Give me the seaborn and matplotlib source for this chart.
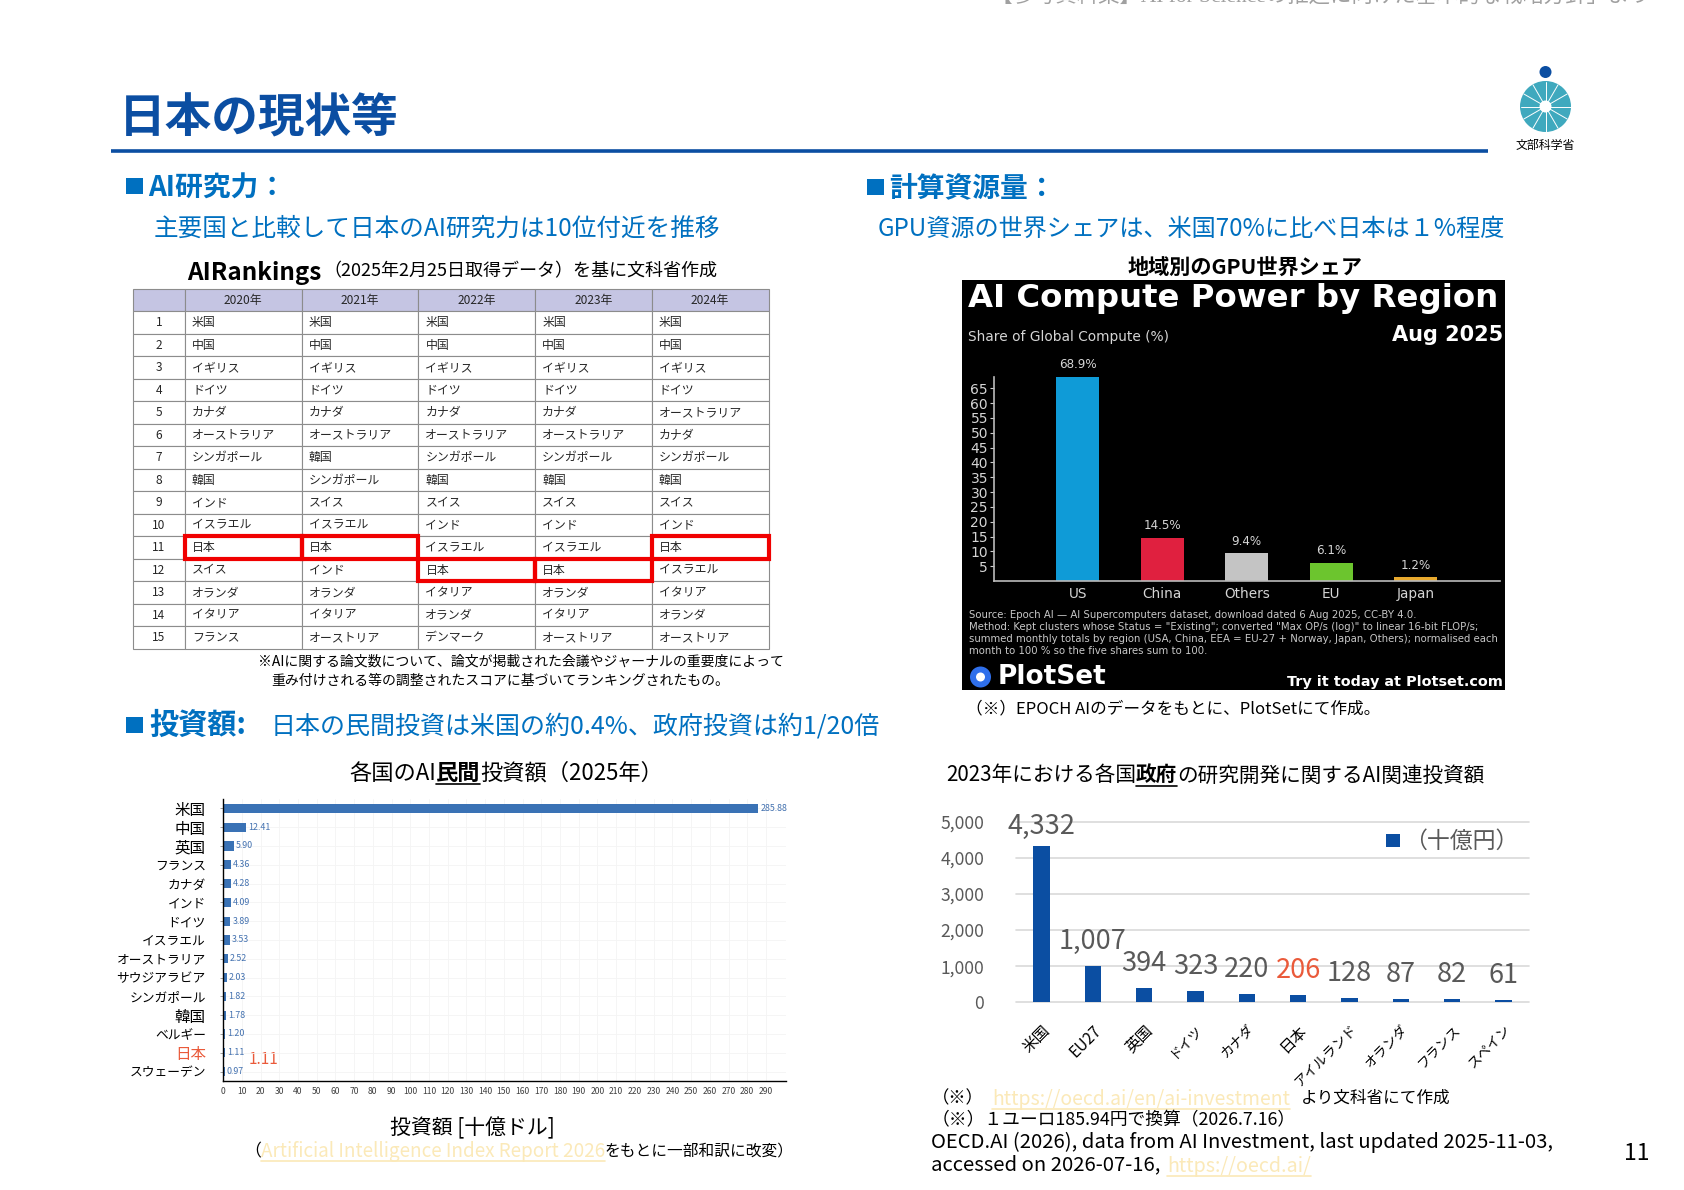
import numpy as np
import pandas as pd
import matplotlib.pyplot as plt
import seaborn as sns
from matplotlib.patches import Rectangle, Ellipse, Circle

# Data
years = ["2020年", "2021年", "2022年", "2023年", "2024年"]
ranks = [str(i) for i in range(1, 16)]
rank_2020 = ["米国", "中国", "イギリス", "ドイツ", "カナダ", "オーストラリア", "シンガポール", "韓国", "インド", "イスラエル", "日本", "スイス", "オランダ", "イタリア", "フランス"]
rank_2021 = ["米国", "中国", "イギリス", "ドイツ", "カナダ", "オーストラリア", "韓国", "シンガポール", "スイス", "イスラエル", "日本", "インド", "オランダ", "イタリア", "オーストリア"]
rank_2022 = ["米国", "中国", "イギリス", "ドイツ", "カナダ", "オーストラリア", "シンガポール", "韓国", "スイス", "インド", "イスラエル", "日本", "イタリア", "オランダ", "デンマーク"]
rank_2023 = ["米国", "中国", "イギリス", "ドイツ", "カナダ", "オーストラリア", "シンガポール", "韓国", "スイス", "インド", "イスラエル", "日本", "オランダ", "イタリア", "オーストリア"]
rank_2024 = ["米国", "中国", "イギリス", "ドイツ", "オーストラリア", "カナダ", "シンガポール", "韓国", "スイス", "インド", "日本", "イスラエル", "イタリア", "オランダ", "オーストリア"]

regions = ["US", "China", "Others", "EU", "Japan"]
region_share = [68.9, 14.5, 9.4, 6.1, 1.2]
region_colors = ["#0F9BD7", "#E0203F", "#C4C4C4", "#6CC52E", "#E8A92E"]
share_ticks = [5, 10, 15, 20, 25, 30, 35, 40, 45, 50, 55, 60, 65]

private_countries = ["米国", "中国", "英国", "フランス", "カナダ", "インド", "ドイツ", "イスラエル", "オーストラリア", "サウジアラビア", "シンガポール", "韓国", "ベルギー", "日本", "スウェーデン"]
private_values = [285.88, 12.41, 5.90, 4.36, 4.28, 4.09, 3.89, 3.53, 2.52, 2.03, 1.82, 1.78, 1.20, 1.11, 0.97]

gov_countries = ["米国", "EU27", "英国", "ドイツ", "カナダ", "日本", "アイルランド", "オランダ", "フランス", "スペイン"]
gov_values = [4332, 1007, 394, 323, 220, 206, 128, 87, 82, 61]

BLUE = "#0070C0"
NAVY = "#0B4EA2"
LINK = "#FBE9B8"
RED = "#EA5A3A"
W, H = 1684, 1190

sns.set_theme(style="white")
plt.rcParams["font.family"] = ["Noto Sans CJK JP", "DejaVu Sans"]

fig = plt.figure(figsize=(W / 100, H / 100), dpi=100, facecolor="white")
renderer = fig.canvas.get_renderer()

# whole slide in pixel coordinates
page = fig.add_axes([0, 0, 1, 1])
page.set_xlim(0, W)
page.set_ylim(H, 0)
page.set_autoscale_on(False)
page.axis("off")


def box(x0, y0, x1, y1):
    return fig.add_axes([x0 / W, 1 - y1 / H, (x1 - x0) / W, (y1 - y0) / H])


def txt(x, y, s, size, color="black", **kw):
    kw.setdefault("va", "center")
    return page.text(x, y, s, fontsize=size, color=color, **kw)


def runs(x, y, parts, size, color="black"):
    # several styles on one line, placed one after the other
    base = y + size * 100 / 72 * 0.36
    for s, c, bold, under in parts:
        t = page.text(x, base, s, fontsize=size, color=c or color, va="baseline",
                      fontweight="bold" if bold else "normal")
        w = t.get_window_extent(renderer).width
        if under:
            page.plot([x, x + w], [y + size * 0.78] * 2, color=c or color, lw=1.2)
        x += w
    return x


def square(x0, y0, x1, y1, color=BLUE):
    page.add_patch(Rectangle((x0, y0), x1 - x0, y1 - y0, color=color, lw=0))


# header
txt(970, -2, "・【参考資料集】AI for Scienceの推進に向けた基本的な戦略方針」より", 15.4, "#A0A0A0",
    family=["Liberation Serif", "Noto Sans CJK JP"])
txt(119, 118, "日本の現状等", 33.6, NAVY, fontweight="bold")
page.plot([111, 1488], [151, 151], color=NAVY, lw=2.6, solid_capstyle="butt")

# logo
page.add_patch(Ellipse((1545.5, 106.5), 51, 51, color="#3FA9BE", lw=0))
for a in np.deg2rad(np.arange(0, 360, 30)):
    page.plot([1545.5, 1545.5 + 25 * np.cos(a)], [106.5, 106.5 + 25 * np.sin(a)], color="white", lw=0.7)
page.add_patch(Circle((1545.5, 106.5), 6, color="white", lw=0))
page.add_patch(Circle((1545.5, 72), 6, color=NAVY, lw=0))
txt(1545.5, 145.5, "文部科学省", 8.6, ha="center")

# section heads
square(126, 178, 143, 194)
txt(148, 189, "AI研究力：", 20, BLUE, fontweight="bold")
txt(154, 229, "主要国と比較して日本のAI研究力は10位付近を推移", 17.7, BLUE)
square(867, 179, 884, 195)
txt(889, 189, "計算資源量：", 20, BLUE, fontweight="bold")
txt(878, 229, "GPU資源の世界シェアは、米国70%に比べ日本は１%程度", 17.4, BLUE)
square(126, 717, 143, 733)
txt(149, 725, "投資額:", 21, BLUE, fontweight="bold")
txt(271, 726, "日本の民間投資は米国の約0.4%、政府投資は約1/20倍", 18, BLUE)

# ranking table
runs(187, 271, [("AIRankings", None, True, False)], 17.5)
txt(323, 271, "（2025年2月25日取得データ）を基に文科省作成", 13)

ax_t = box(133, 289, 768.5, 649)
ax_t.axis("off")
rank_w = 52 / 635.5
cols = [rank_2020, rank_2021, rank_2022, rank_2023, rank_2024]
cell_text = [list(row) for row in zip(*cols)]
head_color = "#C5C5E3"
t_rank = ax_t.table(cellText=[[r] for r in ranks], colLabels=[""], cellLoc="center",
                    colColours=[head_color], bbox=[0, 0, rank_w, 1])
t_main = ax_t.table(cellText=cell_text, colLabels=years, cellLoc="left", colLoc="center",
                    colColours=[head_color] * 5, bbox=[rank_w, 0, 1 - rank_w, 1])
for tb in (t_rank, t_main):
    tb.auto_set_font_size(False)
    tb.set_fontsize(8.6)
    for cell in tb.get_celld().values():
        cell.set_edgecolor("#8C8C8C")
        cell.set_linewidth(0.8)
        cell.PAD = 0.06
# red frames wherever Japan sits
col_w = (1 - rank_w) / 5
row_h = 1 / 16
for i, col in enumerate(cols):
    r = col.index("日本")
    ax_t.add_patch(Rectangle((rank_w + i * col_w, 1 - (r + 2) * row_h), col_w, row_h, fill=False,
                             ec="#F00000", lw=3, transform=ax_t.transAxes, clip_on=False, zorder=20))
txt(258, 662, "※AIに関する論文数について、論文が掲載された会議やジャーナルの重要度によって", 10)
txt(271, 681, "重み付けされる等の調整されたスコアに基づいてランキングされたもの。", 10)

# compute panel
txt(1245, 268, "地域別のGPU世界シェア", 15.2, ha="center", fontweight="bold")
page.add_patch(Rectangle((962, 280), 543, 410, color="black", lw=0))
dv = ["DejaVu Sans"]
txt(968, 298, "AI Compute Power by Region", 23.3, "white", fontweight="bold", family=dv)
txt(968, 337, "Share of Global Compute (%)", 9.9, "#D5D5D5", family=dv)
txt(1503, 335, "Aug 2025", 15, "white", fontweight="bold", family=dv, ha="right")
source_lines = ["Source: Epoch AI — AI Supercomputers dataset, download dated 6 Aug 2025, CC-BY 4.0.",
                "Method: Kept clusters whose Status = \"Existing\"; converted \"Max OP/s (log)\" to linear 16-bit FLOP/s;",
                "summed monthly totals by region (USA, China, EEA = EU-27 + Norway, Japan, Others); normalised each",
                "month to 100 % so the five shares sum to 100."]
for y, line in zip([615, 627, 639, 651], source_lines):
    txt(969, y, line, 7.3, "#C8C8C8", family=dv)
page.add_patch(Circle((980.5, 677), 10.5, color="#2F6FEB", lw=0))
page.add_patch(Circle((980.5, 677), 4.5, color="white", lw=0))
txt(998, 677, "PlotSet", 19, "white", fontweight="bold", family=dv)
txt(1503, 682, "Try it today at Plotset.com", 10.4, "white", fontweight="bold", family=dv, ha="right")
txt(966, 709, "（※）EPOCH AIのデータをもとに、PlotSetにて作成。", 12)

ax_r = box(993.5, 376.5, 1500, 581)
ax_r.patch.set_visible(False)
df_r = pd.DataFrame({"region": regions, "share": region_share})
sns.barplot(data=df_r, x="region", y="share", hue="region", palette=region_colors, saturation=1,
            width=0.51, linewidth=0, legend=False, ax=ax_r)
ax_r.set_xlim(-1, 5)
ax_r.set_ylim(0, 69)
ax_r.set_xlabel("")
ax_r.set_ylabel("")
ax_r.set_yticks(share_ticks)
ax_r.tick_params(axis="y", length=3, width=0.8, color="#CCCCCC", labelcolor="#D5D5D5", labelsize=10, pad=1, left=True)
ax_r.tick_params(axis="x", length=0, labelcolor="#D5D5D5", labelsize=9.8, pad=4)
for lab in ax_r.get_xticklabels() + ax_r.get_yticklabels():
    lab.set_family(dv)
for c in ax_r.containers:
    ax_r.bar_label(c, fmt="%.1f%%", padding=4, color="#D5D5D5", fontsize=8.6, family=dv)
sns.despine(ax=ax_r)
for s in ("left", "bottom"):
    ax_r.spines[s].set_color("#BBBBBB")
    ax_r.spines[s].set_linewidth(1.2)

# private investment
runs(349, 772, [("各国のAI", None, False, False), ("民間", None, True, True), ("投資額（2025年）", None, False, False)], 16)
ax_p = box(222.5, 799, 786, 1081)
ax_p.patch.set_visible(False)
df_p = pd.DataFrame({"country": private_countries, "value": private_values})
sns.barplot(data=df_p, y="country", x="value", color="#3A72B5", saturation=1, width=0.48, linewidth=0, ax=ax_p)
ax_p.set_xlim(-0.3, 300.7)
ax_p.set_ylim(14.5, -0.5)
ax_p.set_xlabel("")
ax_p.set_ylabel("")
ax_p.set_xticks(np.arange(0, 300, 10))
ax_p.grid(True, color="#F4F4F4", lw=0.6)
ax_p.set_axisbelow(True)
ax_p.tick_params(axis="x", length=0, labelsize=6.2, labelcolor="#404040", pad=4)
ax_p.tick_params(axis="y", length=2, width=0.5, color="#777777", labelsize=9.2, labelcolor="black", pad=10, left=True)
for lab in ax_p.get_yticklabels():
    if len(lab.get_text()) == 2:
        lab.set_fontsize(11.2)
    if lab.get_text() == "日本":
        lab.set_color(RED)
ax_p.bar_label(ax_p.containers[0], fmt="%.2f", padding=1.5, color="#4472B0", fontsize=6.4)
sns.despine(ax=ax_p)
for s in ("left", "bottom"):
    ax_p.spines[s].set_color("black")
    ax_p.spines[s].set_linewidth(1.0)
txt(249, 1060, "1.11", 11, RED)
txt(472, 1128, "投資額 [十億ドル]", 15, ha="center")
x_end = runs(244, 1150, [("（", None, False, False)], 12.2)
x_end = runs(x_end, 1150, [("Artificial Intelligence Index Report 2026", LINK, False, True)], 13.6)
runs(x_end, 1150, [("をもとに一部和訳に改変）", None, False, False)], 11.3)

# government investment
runs(946, 774, [("2023年における各国", None, False, False), ("政府", None, True, True),
                ("の研究開発に関するAI関連投資額", None, False, False)], 14.85)
ax_g = box(1016, 821.7, 1529, 1002.3)
ax_g.patch.set_visible(False)
df_g = pd.DataFrame({"country": gov_countries, "value": gov_values})
sns.barplot(data=df_g, x="country", y="value", color=NAVY, saturation=1, width=0.32, linewidth=0, ax=ax_g)
ax_g.set_xlim(-0.5, 9.5)
ax_g.set_ylim(0, 5000)
ax_g.set_xlabel("")
ax_g.set_ylabel("")
ax_g.set_yticks([0, 1000, 2000, 3000, 4000, 5000], ["0", "1,000", "2,000", "3,000", "4,000", "5,000"])
ax_g.grid(True, axis="y", color="#D9D9D9", lw=1.2, clip_on=False)
ax_g.set_axisbelow(True)
ax_g.tick_params(axis="y", length=0, labelsize=12.6, labelcolor="#595959", pad=23)
ax_g.tick_params(axis="x", length=0, labelsize=9.8, labelcolor="black", pad=14)
for lab in ax_g.get_xticklabels():
    lab.set(rotation=45, ha="right", va="top", rotation_mode="anchor")
    if lab.get_text() in ("米国", "英国", "日本", "EU27"):
        lab.set_fontsize(11.2)
sns.despine(ax=ax_g, left=True, bottom=True)
labs = ax_g.bar_label(ax_g.containers[0], labels=[f"{v:,}" for v in gov_values], padding=8,
                      color="#595959", fontsize=19.5)
labs[5].set_color(RED)
labs[0].xyann = (0, 4.5)
square(1386, 834, 1400, 847, NAVY)
txt(1404, 841, "（十億円）", 16.5, "#595959")

txt(932, 1098, "（※）", 12.5)
runs(992, 1098, [("https://oecd.ai/en/ai-investment", LINK, False, True)], 14)
txt(1301, 1098, "より文科省にて作成", 12)
txt(932, 1120, "（※）１ユーロ185.94円で換算（2026.7.16）", 12.8)
txt(931, 1142, "OECD.AI (2026), data from AI Investment, last updated 2025-11-03,", 14.6)
txt(931, 1165, "accessed on 2026-07-16,", 14.6)
runs(1167, 1165, [("https://oecd.ai/", LINK, False, True)], 14.2)
txt(1637, 1153, "11", 16.5, ha="center")

fig.savefig("out.png", dpi=100, facecolor="white")
